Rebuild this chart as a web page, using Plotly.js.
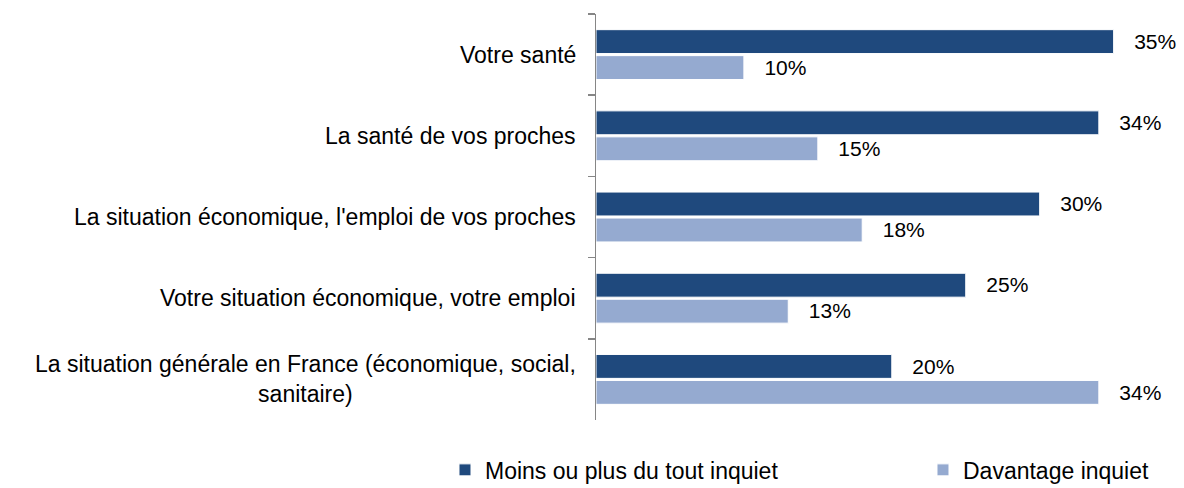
<!DOCTYPE html>
<html>
<head>
<meta charset="utf-8">
<script src="https://cdn.plot.ly/plotly-3.0.1.min.js"></script>
<style>html,body{margin:0;padding:0;background:#fff;}#chart{width:1184px;height:488px;}</style>
</head>
<body>
<div id="chart"></div>
<script>
const categories = [
  "Votre santé",
  "La santé de vos proches",
  "La situation économique, l'emploi de vos proches",
  "Votre situation économique, votre emploi",
  "La situation générale en France (économique, social,<br>sanitaire)"
];
const seriesNames = ["Moins ou plus du tout inquiet", "Davantage inquiet"];
const moinsInquiet = [35, 34, 30, 25, 20];
const davantageInquiet = [10, 15, 18, 13, 34];
const colors = ["#1F497D", "#95AAD0"];

const font = "Liberation Sans, Arial, sans-serif";
const fs = 23;
const darkTrace = {
  type: "bar", orientation: "h", name: seriesNames[0],
  y: categories, x: moinsInquiet,
  marker: {color: colors[0], line: {color: "#ffffff", width: 1}},
  text: moinsInquiet.map(v => "\u00a0\u00a0\u00a0" + v + "%"),
  textposition: "outside", textfont: {family: font, size: 22, color: "#000"},
  cliponaxis: false, hoverinfo: "skip"
};
const lightTrace = {
  type: "bar", orientation: "h", name: seriesNames[1],
  y: categories, x: davantageInquiet,
  marker: {color: colors[1], line: {color: "#ffffff", width: 1}},
  text: davantageInquiet.map(v => "\u00a0\u00a0\u00a0" + v + "%"),
  textposition: "outside", textfont: {family: font, size: 22, color: "#000"},
  cliponaxis: false, hoverinfo: "skip"
};

const annotations = categories.map(c => ({
  xref: "paper", yref: "y", x: 0, y: c, text: c,
  xanchor: "right", yanchor: "middle", align: "center", xshift: -18,
  showarrow: false, font: {family: font, size: fs, color: "#000"}
}));

const layout = {
  width: 1184, height: 488,
  margin: {l: 596, r: 26, t: 14, b: 68, autoexpand: false},
  paper_bgcolor: "#fff", plot_bgcolor: "#fff",
  font: {family: font, size: fs, color: "#000"},
  barmode: "group", bargap: 0.36, bargroupgap: 0.08,
  showlegend: true,
  legend: {
    orientation: "h", traceorder: "normal",
    x: -0.2687, xanchor: "left", y: -0.07, yanchor: "top",
    font: {family: font, size: fs, color: "#000"},
    entrywidth: 433
  },
  xaxis: {range: [0, 38], showgrid: false, zeroline: false, showline: false, showticklabels: false, ticks: ""},
  yaxis: {
    type: "category", autorange: "reversed",
    showgrid: false, zeroline: false, showline: true, linecolor: "#868686", linewidth: 1.5,
    ticks: "outside", tickson: "boundaries", ticklen: 7, tickcolor: "#868686", tickwidth: 1.5,
    showticklabels: false
  },
  annotations: annotations
};

Plotly.newPlot("chart", [darkTrace, lightTrace], layout, {displayModeBar: false, staticPlot: true});
</script>
</body>
</html>
